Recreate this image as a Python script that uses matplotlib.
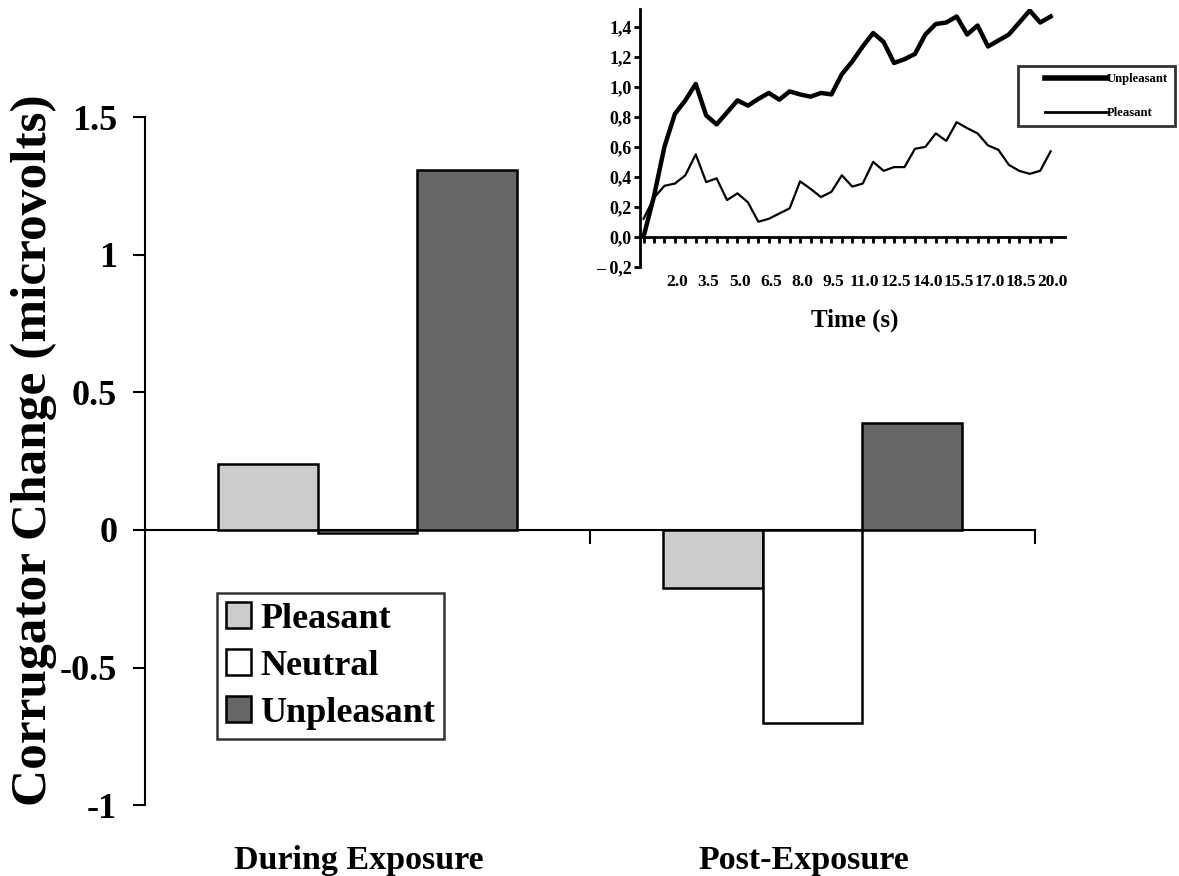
import numpy as np
import matplotlib
matplotlib.use('Agg')
from matplotlib import pyplot as plt
from matplotlib.patches import Patch
from matplotlib.lines import Line2D
from matplotlib.legend_handler import HandlerLine2D

plt.rcParams['font.family'] = ['Liberation Serif', 'DejaVu Serif']
plt.rcParams['font.weight'] = 'bold'

# main bar chart data
periods = ['During Exposure', 'Post-Exposure']
conditions = ['Pleasant', 'Neutral', 'Unpleasant']
pleasant = [0.24, -0.21]
neutral = [-0.01, -0.70]
unpleasant = [1.31, 0.39]
bar_colors = ['#cccccc', '#ffffff', '#666666']
y_ticks = [-1, -0.5, 0, 0.5, 1, 1.5]
y_tick_labels = ['-1', '-0.5', '0', '0.5', '1', '1.5']

# inset time course (0.5 s bins)
time_s = np.arange(1, 41) * 0.5
unpl_tc = [0.00, 0.27, 0.60, 0.82, 0.91, 1.02, 0.81, 0.75, 0.83, 0.91,
           0.875, 0.92, 0.96, 0.915, 0.97, 0.95, 0.935, 0.96, 0.95, 1.085,
           1.17, 1.27, 1.36, 1.30, 1.16, 1.185, 1.22, 1.35, 1.42, 1.43,
           1.47, 1.35, 1.41, 1.27, 1.31, 1.35, 1.43, 1.51, 1.43, 1.47]
pleas_tc = [0.12, 0.26, 0.34, 0.355, 0.41, 0.55, 0.365, 0.39, 0.245, 0.29,
            0.23, 0.10, 0.12, 0.155, 0.19, 0.37, 0.32, 0.265, 0.30, 0.41,
            0.335, 0.355, 0.50, 0.44, 0.465, 0.465, 0.587, 0.60, 0.69, 0.64,
            0.765, 0.725, 0.69, 0.61, 0.58, 0.48, 0.44, 0.42, 0.44, 0.57]
inset_yticks = [-0.2, 0.0, 0.2, 0.4, 0.6, 0.8, 1.0, 1.2, 1.4]
inset_ylabels = ['\u2013 0,2', '0,0', '0,2', '0,4', '0,6', '0,8', '1,0', '1,2', '1,4']
inset_xlabels = [2.0, 3.5, 5.0, 6.5, 8.0, 9.5, 11.0, 12.5, 14.0, 15.5, 17.0, 18.5, 20.0]

fig = plt.figure(figsize=(11.79, 8.76), dpi=100)
ax = fig.add_axes([0.123, 0.081, 0.755, 0.785])

x = np.arange(len(periods))
w = 0.2236
for k, (vals, c) in enumerate(zip([pleasant, neutral, unpleasant], bar_colors)):
    ax.bar(x + (k - 1) * w, vals, w, color=c, edgecolor='black', linewidth=1.8,
           label=conditions[k], zorder=3)

ax.set_xlim(-0.5, 1.5)
ax.set_ylim(-1, 1.5)
ax.spines['top'].set_visible(False)
ax.spines['right'].set_visible(False)
ax.spines['bottom'].set_position(('data', 0))
ax.spines['bottom'].set_linewidth(1.5)
ax.spines['left'].set_linewidth(1.5)
ax.set_yticks(y_ticks)
ax.set_yticklabels(y_tick_labels, fontsize=26, fontweight='bold')
ax.tick_params(axis='y', length=9, width=1.5, pad=11)
ax.set_xticks([0.5, 1.5])
ax.set_xticklabels([])
ax.tick_params(axis='x', length=10, width=1.5, direction='out')
for xi, name in zip(x, periods):
    ax.text(xi - 0.02, -0.08, name, transform=ax.get_xaxis_transform(),
            ha='center', va='center', fontsize=24.5, fontweight='bold')
fig.text(0.029, 0.486, 'Corrugator Change (microvolts)', rotation=90,
         ha='center', va='center', fontsize=37, fontweight='bold')

handles = [Patch(facecolor=c, edgecolor='black', linewidth=1.8) for c in bar_colors]
leg = ax.legend(handles, conditions, loc='upper left', bbox_to_anchor=(0.081, 0.308),
                prop={'size': 26, 'weight': 'bold'}, frameon=True, fancybox=False,
                edgecolor='black', handlelength=0.7, handleheight=0.7,
                handletextpad=0.25, borderpad=0.25, labelspacing=0.38, borderaxespad=0)
leg.get_frame().set_linewidth(1.8)

# inset
ins = fig.add_axes([0.543, 0.6955, 0.3605, 0.2942])
ins.plot(time_s, unpl_tc, color='black', linewidth=3.2, label='Unpleasant')
ins.plot(time_s, pleas_tc, color='black', linewidth=1.6, label='Pleasant')
ins.set_xlim(0.34, 20.7)
ins.set_ylim(-0.2, 1.52)
ins.patch.set_alpha(0)
for s in ['top', 'right']:
    ins.spines[s].set_visible(False)
ins.spines['bottom'].set_position(('data', 0))
ins.spines['bottom'].set_linewidth(2)
ins.spines['left'].set_linewidth(2)
ins.set_yticks(inset_yticks)
ins.set_yticklabels(inset_ylabels, fontsize=13, fontweight='bold')
ins.tick_params(axis='y', length=4, width=2, pad=2)
ins.set_xticks(time_s)
ins.set_xticklabels([])
ins.tick_params(axis='x', length=4, width=2, direction='out')
for t in inset_xlabels:
    ins.text(t + 0.1, -0.25, '%.1f' % t, ha='center', va='top',
             fontsize=12.5, fontweight='bold')
ins.text(10.6, -0.48, 'Time (s)', ha='center', va='top', fontsize=18, fontweight='bold')

# inset legend: line handles start some way in from the box edge
lh = [Line2D([], [], color='black', linewidth=4), Line2D([], [], color='black', linewidth=2)]
hmap = {h: HandlerLine2D(xpad=1.6) for h in lh}
ileg = fig.legend(lh, ['Unpleasant', 'Pleasant'], loc='upper left',
                  bbox_to_anchor=(1018 / 1179, 1 - 66 / 876), handler_map=hmap,
                  prop={'size': 9.2, 'weight': 'bold'}, frameon=True, fancybox=False,
                  edgecolor='black', handlelength=6.4, handletextpad=0.0,
                  borderpad=0.55, labelspacing=1.75, borderaxespad=0)
ileg.get_frame().set_linewidth(2)

fig.savefig('out.png', dpi=100)
